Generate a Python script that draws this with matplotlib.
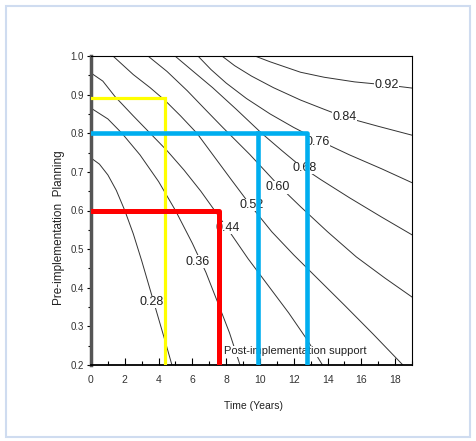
import matplotlib
matplotlib.use("Agg")
import matplotlib.pyplot as plt
from matplotlib.patches import Rectangle
from matplotlib.ticker import MultipleLocator

plt.rcParams['font.family'] = ['Liberation Sans', 'DejaVu Sans']

# contour lines (time in years, pre-implementation planning)
levels = ['0.28', '0.36', '0.44', '0.52', '0.60', '0.68', '0.76', '0.84', '0.92']

c28_x = [0, 0.5, 1.0, 1.5, 2.0, 2.5, 3.0, 3.5, 4.0, 4.4, 4.79]
c28_y = [0.736, 0.72, 0.692, 0.652, 0.60, 0.54, 0.47, 0.395, 0.32, 0.26, 0.2]

c36_x = [0, 1.0, 1.83, 2.9, 4.0, 5.0, 6.0, 6.8, 7.5, 8.2, 8.82]
c36_y = [0.865, 0.837, 0.80, 0.744, 0.675, 0.60, 0.515, 0.44, 0.362, 0.283, 0.2]

c44_x = [0, 0.7, 1.42, 2.5, 3.5, 4.5, 5.5, 6.5, 7.4, 8.2, 9.3, 10.5, 11.7, 12.8, 13.7]
c44_y = [0.956, 0.935, 0.895, 0.845, 0.80, 0.755, 0.705, 0.65, 0.595, 0.545, 0.475, 0.405, 0.335, 0.265, 0.2]

c52_x = [1.3, 2.5, 3.5, 4.38, 5.3, 6.27, 7.2, 8.3, 9.5, 10.7, 12.0, 13.5, 15.0, 16.7, 18.46]
c52_y = [1.0, 0.952, 0.918, 0.885, 0.845, 0.80, 0.745, 0.68, 0.61, 0.545, 0.485, 0.42, 0.355, 0.28, 0.2]

c60_x = [3.37, 4.5, 5.7, 6.8, 7.8, 9.4, 11.1, 12.4, 14.0, 15.7, 17.4, 19.0]
c60_y = [1.0, 0.96, 0.91, 0.86, 0.815, 0.745, 0.665, 0.61, 0.545, 0.48, 0.425, 0.376]

c68_x = [4.97, 6.0, 7.2, 8.6, 10.1, 11.3, 12.4, 13.6, 15.3, 17.2, 19.0]
c68_y = [1.0, 0.962, 0.918, 0.862, 0.80, 0.755, 0.715, 0.68, 0.633, 0.583, 0.537]

c76_x = [6.33, 7.1, 8.0, 9.2, 10.6, 12.0, 13.55, 15.3, 17.2, 19.0]
c76_y = [1.0, 0.965, 0.93, 0.89, 0.85, 0.815, 0.78, 0.744, 0.708, 0.672]

c84_x = [7.75, 8.5, 9.5, 10.8, 12.4, 13.8, 15.0, 17.0, 19.0]
c84_y = [1.0, 0.975, 0.948, 0.918, 0.886, 0.862, 0.842, 0.818, 0.795]

c92_x = [9.7, 10.6, 11.6, 12.4, 13.8, 15.6, 17.5, 19.0]
c92_y = [1.0, 0.985, 0.97, 0.958, 0.945, 0.933, 0.925, 0.917]

label_x = [3.6, 6.33, 8.1, 9.53, 11.07, 12.65, 13.4, 15.0, 17.5]
label_y = [0.363, 0.467, 0.555, 0.614, 0.66, 0.71, 0.778, 0.842, 0.925]

# highlighted scenarios
yellow_t, yellow_p = 4.4, 0.89
red_t, red_p = 7.6, 0.6
blue_t1, blue_t2, blue_p = 9.9, 12.8, 0.8

lines_x = [c28_x, c36_x, c44_x, c52_x, c60_x, c68_x, c76_x, c84_x, c92_x]
lines_y = [c28_y, c36_y, c44_y, c52_y, c60_y, c68_y, c76_y, c84_y, c92_y]

fig = plt.figure(figsize=(4.76, 4.41), dpi=100)
fig.patches.append(Rectangle((6/476, 1 - 437/441), 464/476, 431/441, transform=fig.transFigure,
                             fill=False, edgecolor='#cfdcf0', lw=1.5))
ax = fig.add_axes([91/476, 1 - 365/441, 321/476, 309/441])

for xs, ys in zip(lines_x, lines_y):
    ax.plot(xs, ys, color='#333333', lw=0.7, zorder=2)

for lab, lx, ly in zip(levels, label_x, label_y):
    ax.text(lx, ly, lab, fontsize=9, color='#222222', ha='center', va='center', zorder=3,
            bbox=dict(facecolor='white', edgecolor='none', pad=0.3))

ax.text(7.9, 0.235, 'Post-implementation support', fontsize=8, color='#222222', va='center',
        zorder=3, bbox=dict(facecolor='white', edgecolor='none', pad=0.2))

# yellow
ax.plot([0, yellow_t, yellow_t], [yellow_p, yellow_p, 0.2], color='#ffff00', lw=2.3, zorder=4,
        solid_joinstyle='miter')
# red
ax.plot([0, red_t, red_t], [red_p, red_p, 0.2], color='#ff0000', lw=3.6, zorder=4,
        solid_joinstyle='round')
# blue
ax.plot([0, blue_t2, blue_t2], [blue_p, blue_p, 0.2], color='#00aeef', lw=3.3, zorder=4,
        solid_joinstyle='round')
ax.plot([blue_t1, blue_t1], [blue_p, 0.2], color='#00aeef', lw=3.3, zorder=4)

ax.set_xlim(0, 19)
ax.set_ylim(0.2, 1.0)
ax.xaxis.set_major_locator(MultipleLocator(2))
ax.xaxis.set_minor_locator(MultipleLocator(1))
ax.yaxis.set_major_locator(MultipleLocator(0.1))
ax.yaxis.set_minor_locator(MultipleLocator(0.05))
ax.tick_params(axis='x', which='major', direction='in', length=5, width=0.8, labelsize=7.5,
               labelcolor='#333333', pad=7)
ax.tick_params(axis='x', which='minor', direction='in', length=3, width=0.8)
ax.tick_params(axis='y', which='major', direction='out', length=3, width=0.8, labelsize=7,
               labelcolor='#333333', pad=2)
ax.tick_params(axis='y', which='minor', direction='out', length=2, width=0.8)

ax.spines['left'].set_linewidth(2.5)
ax.spines['left'].set_color('#555555')
ax.spines['bottom'].set_linewidth(1.3)
ax.spines['top'].set_linewidth(0.8)
ax.spines['right'].set_linewidth(0.8)

ax.set_xlabel('Time (Years)', fontsize=7.5, color='#222222')
ax.xaxis.set_label_coords(0.505, -0.118)
ax.set_ylabel('Pre-implementation  Planning', fontsize=8.5, color='#222222')
ax.yaxis.set_label_coords(-0.082, 0.443)

fig.savefig('out.png', dpi=100)
